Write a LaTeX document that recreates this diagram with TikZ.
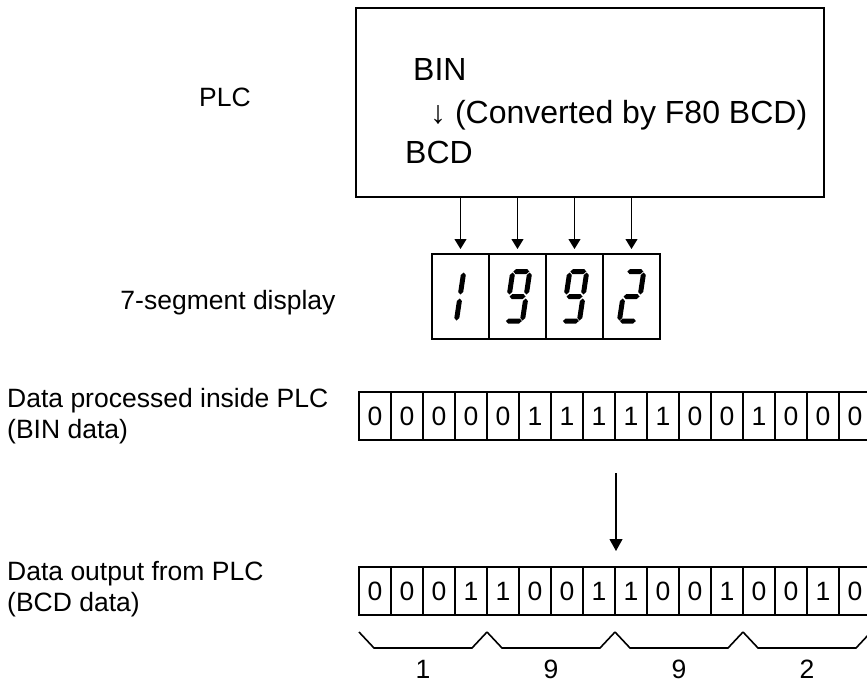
\documentclass[tikz,border=0pt]{standalone}
\usepackage{fontspec}
\setmainfont{Liberation Sans}
\usepackage{tikz}
\usetikzlibrary{arrows.meta}
% one bar of the 7-segment digits
\newcommand{\hseg}[1]{\fill[shift={(0,#1)}] (3,0)--(5.5,2.5)--(16.5,2.5)--(19,0)--(16.5,-2.5)--(5.5,-2.5)--cycle;}
\newcommand{\vseg}[2]{\fill[shift={(#1,#2)}] (0,0)--(2.5,2.5)--(2.5,19.5)--(0,22)--(-2.5,19.5)--(-2.5,2.5)--cycle;}

\begin{document}
\begin{tikzpicture}[x=1pt, y=1pt,
    every node/.style={font=\fontsize{26.5}{31}\selectfont, inner sep=0pt},
    lcdcell/.style={draw, line width=2pt, minimum width=57pt, minimum height=85pt},
    bitcell/.style={draw, line width=2pt, minimum width=32pt, minimum height=48pt},
    arr/.style={-{Triangle[length=10pt, width=12pt]}, line width=1.1pt}]
  \useasboundingbox (0,0) rectangle (867,-683);
  % PLC block
  \node[draw, line width=2pt, minimum width=468pt, minimum height=189pt] (plc) at (590,-102.5) {};
  \node[anchor=west, font=\fontsize{32}{38}\selectfont] (bin) at (413,-69) {BIN};
  \node[anchor=west, font=\fontsize{32}{38}\selectfont] (conv) at (430,-115) {↓ (Converted by F80 BCD)};
  \node[anchor=west, font=\fontsize{32}{38}\selectfont] (bcd) at (405,-152) {BCD};
  \node (plclbl) at (225,-97) {PLC};
  % display
  \node (seglbl) at (228,-303) {7-segment display};
  \foreach \i/\x in {1/460.5, 2/517.5, 3/574.5, 4/631.5}
    \node[lcdcell] (d\i) at (\x,-296.5) {};
  \foreach \i in {1,...,4}
    \draw[arr, shorten >=4pt] (plc.south -| d\i) -- (d\i.north);
  \begin{scope}[shift={(d1.center)}, shift={(-24,-27)}, xslant=0.15]
    \vseg{19.5}{29}\vseg{19.5}{3}
  \end{scope}
  \begin{scope}[shift={(d2.center)}, shift={(-15,-27)}, xslant=0.15]
    \hseg{52}\hseg{27}\hseg{2.5}\vseg{2.5}{29}\vseg{19.5}{29}\vseg{19.5}{3}
  \end{scope}
  \begin{scope}[shift={(d3.center)}, shift={(-15,-27)}, xslant=0.15]
    \hseg{52}\hseg{27}\hseg{2.5}\vseg{2.5}{29}\vseg{19.5}{29}\vseg{19.5}{3}
  \end{scope}
  \begin{scope}[shift={(d4.center)}, shift={(-15,-27)}, xslant=0.15]
    \hseg{52}\hseg{27}\hseg{2.5}\vseg{19.5}{29}\vseg{2.5}{3}
  \end{scope}
  % BIN data
  \node[anchor=west, align=left] (binlbl) at (7,-416) {Data processed inside PLC\\(BIN data)};
  \foreach \b [count=\i] in {0,0,0,0,0,1,1,1,1,1,0,0,1,0,0,0}
    \node[bitcell] (b\i) at (343+32*\i,-416) {\b};
  % BCD data
  \node[anchor=west, align=left] (bcdlbl) at (7,-589) {Data output from PLC\\(BCD data)};
  \foreach \b [count=\i] in {0,0,0,1,1,0,0,1,1,0,0,1,0,0,1,0}
    \node[bitcell] (c\i) at (343+32*\i,-591) {\b};
  \coordinate (convtop) at ([yshift=-32pt]b8.south east);
  \coordinate (convend) at ([yshift=15pt]c8.north east);
  \draw[arr, -{Triangle[length=12pt, width=13pt]}] (convtop) -- (convend);
  % digit groups
  \foreach \g [count=\k from 0] in {1,9,9,2} {
    \draw[line width=1.6pt] (359+128*\k,-632) -- ++(15,-16) -- ++(98,0) -- ++(15,16);
    \node (grp\k) at (423+128*\k,-669) {\g};
  }
\end{tikzpicture}
\end{document}
